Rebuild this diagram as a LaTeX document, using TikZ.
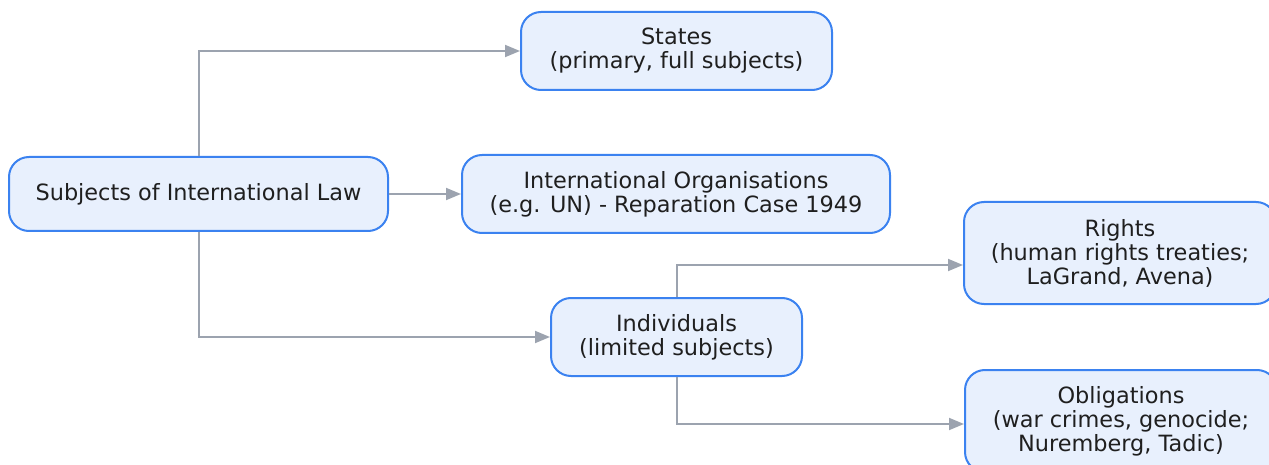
\documentclass[tikz,border=0pt]{standalone}
\usepackage{fontspec}
\setmainfont{DejaVu Sans}
\usetikzlibrary{arrows.meta}
\definecolor{boxfill}{HTML}{E8F0FD}
\definecolor{boxdraw}{HTML}{3B82F0}
\definecolor{edgecol}{HTML}{9CA3AF}
\definecolor{txt}{HTML}{1F1F1F}
\tikzset{
  topic/.style={draw=boxdraw, fill=boxfill, line width=2pt, rounded corners=20pt,
    text=txt, align=center, inner sep=0pt,
    font=\fontsize{22.4}{24}\selectfont},
  link/.style={draw=edgecol, line width=1.8pt, -{Triangle[length=15pt,width=12pt]}},
}
\begin{document}
\begin{tikzpicture}[x=1pt,y=-1pt]
\useasboundingbox (0,0) rectangle (1269,465);
\node[topic, minimum width=379pt, minimum height=74pt] (root) at (198.5,194) {Subjects of International Law};
\node[topic, minimum width=311pt, minimum height=78pt] (states) at (676.5,51) {States\\(primary, full subjects)};
\node[topic, minimum width=428pt, minimum height=78pt] (org) at (676,194) {International Organisations\\(e.g. UN) - Reparation Case 1949};
\node[topic, minimum width=251pt, minimum height=78pt] (ind) at (676.5,337) {Individuals\\(limited subjects)};
\node[topic, minimum width=312pt, minimum height=102pt] (rights) at (1120,253) {Rights\\(human rights treaties;\\LaGrand, Avena)};
\node[topic, minimum width=312pt, minimum height=102pt] (obl) at (1121,421) {Obligations\\(war crimes, genocide;\\Nuremberg, Tadic)};
\coordinate (r1) at (199,51);
\coordinate (r3) at (199,337);
\coordinate (i1) at (677,265);
\coordinate (i2) at (677,424);
\draw[link] (root.north -| r1) -- (r1) -- (states.west);
\draw[link] (root.east) -- (org.west);
\draw[link] (root.south -| r3) -- (r3) -- (ind.west);
\draw[link] (ind.north -| i1) -- (i1) -- (i1 -| rights.west);
\draw[link] (ind.south -| i2) -- (i2) -- (i2 -| obl.west);
\end{tikzpicture}
\end{document}
